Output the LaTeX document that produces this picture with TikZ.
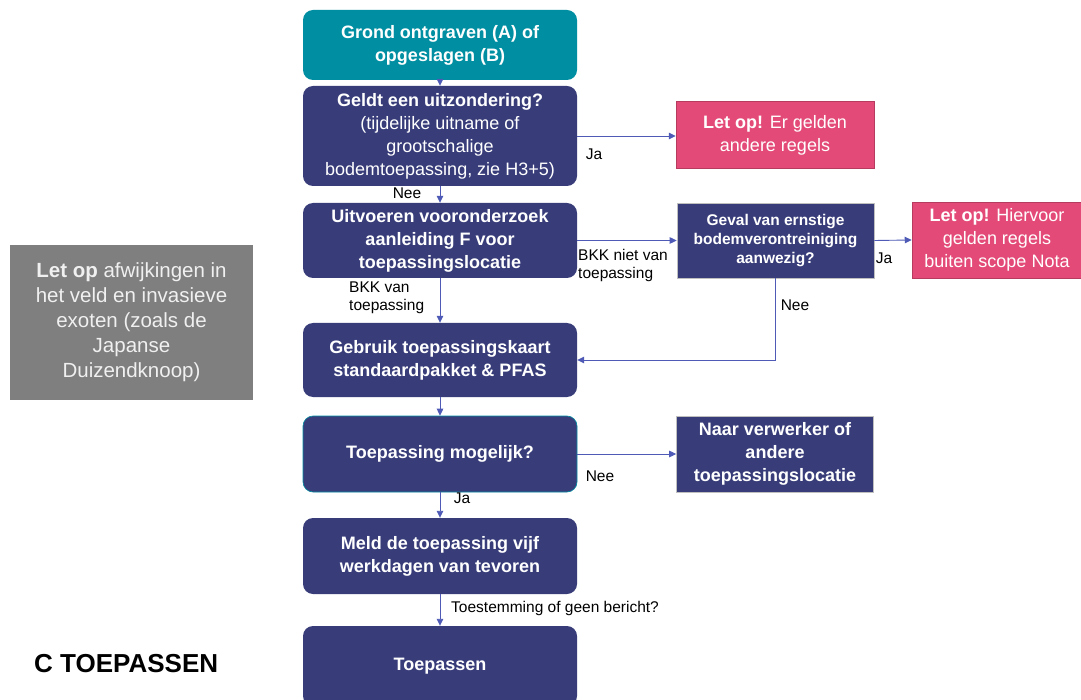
\documentclass[tikz,border=0pt]{standalone}
\usepackage{fontspec}
\setmainfont{Liberation Sans}
\usepackage{tikz}
\usetikzlibrary{positioning}
\usetikzlibrary{arrows.meta}
\definecolor{grondteal}{RGB}{0,143,162}
\definecolor{stapblauw}{RGB}{56,61,122}
\definecolor{letoproze}{RGB}{228,74,119}
\definecolor{notagrijs}{RGB}{127,127,127}
\definecolor{pijlblauw}{RGB}{78,90,182}
\tikzset{
	stap/.style={rounded corners=10pt, fill=stapblauw, text=white, align=center, inner sep=2pt,
		minimum width=274pt, minimum height=75pt, font=\bfseries\fontsize{18}{23}\selectfont},
	blok/.style={fill=stapblauw, draw=white!75!black, line width=0.6pt, text=white, align=center,
		minimum width=197pt, minimum height=75pt, inner sep=1pt, font=\bfseries\fontsize{18}{23}\selectfont},
	letop/.style={fill=letoproze, draw=letoproze!80!black, line width=0.5pt, text=white, align=center,
		minimum height=67pt, inner sep=1pt, font=\fontsize{18}{23}\selectfont},
	uitleg/.style={inner sep=0pt, align=left, font=\fontsize{15.5}{18}\selectfont},
	pijl/.style={draw=pijlblauw, line width=0.9pt, -{Triangle[length=7pt,width=6.5pt]}},
}
\begin{document}
\begin{tikzpicture}[x=1pt, y=-1pt]
		\useasboundingbox [fill=white] (0,0) rectangle (1081,700);
		% hoofdlijn
		\node at (440,45) [stap, fill=grondteal, minimum height=70pt] (grond) {Grond ontgraven (A) of\\opgeslagen (B)};
		\node at (440,136) [stap, minimum height=100pt] (uitz) {Geldt een uitzondering?\\\mdseries (tijdelijke uitname of\\\mdseries grootschalige\\\mdseries bodemtoepassing, zie H3+5)};
		\node at (440,240.5) [stap] (vooronderzoek) {Uitvoeren vooronderzoek\\aanleiding F voor\\toepassingslocatie};
		\node at (440,360) [stap, minimum height=74pt] (kaart) {Gebruik toepassingskaart\\standaardpakket \& PFAS};
		\node at (440,454) [stap, draw=grondteal, line width=0.6pt, minimum height=76pt] (mogelijk) {Toepassing mogelijk?};
		\node at (440,556) [stap, minimum height=76pt] (melden) {Meld de toepassing vijf\\werkdagen van tevoren};
		\node at (440,666) [stap, minimum height=80pt] (toepassen) {Toepassen};
		% zijtakken
		\node at (775,135) [letop, minimum width=198pt] (letop1) {\textbf{Let op!} Er gelden\\andere regels};
		\node at (775.5,240.5) [blok, font=\bfseries\fontsize{15.5}{19}\selectfont] (geval) {Geval van ernstige\\bodemverontreiniging\\aanwezig?};
		\node at (997,240) [letop, minimum width=170pt, minimum height=76pt] (letop2) {\textbf{Let op!} Hiervoor\\gelden regels\\buiten scope Nota};
		\node at (775,454) [blok, minimum height=76pt] (verwerker) {Naar verwerker of\\andere\\toepassingslocatie};
		% links
		\node at (131.5,322.5) [fill=notagrijs, text=white!94!black, align=center, minimum width=243pt, minimum height=155pt,
			font=\fontsize{20.5}{25}\selectfont] (exoten) {\textbf{Let op} afwijkingen in\\het veld en invasieve\\exoten (zoals de\\Japanse\\Duizendknoop)};
		\node at (34,664) [anchor=west, inner sep=0pt, font=\bfseries\fontsize{26}{30}\selectfont] (titel) {C TOEPASSEN};
		% pijlen
		\draw [pijl] (grond) -- (uitz);
		\draw [pijl] (uitz) -- (vooronderzoek);
		\draw [pijl] (uitz.east) -- (uitz.east -| letop1.west);
		\draw [pijl] (vooronderzoek.east) -- (geval.west);
		\draw [pijl] (geval.east) -- (letop2.west);
		\draw [pijl] (vooronderzoek) -- (kaart);
		\draw [pijl] (geval.south) |- (kaart.east);
		\draw [pijl] (kaart) -- (mogelijk);
		\draw [pijl] (mogelijk.east) -- (verwerker.west);
		\draw [pijl] (mogelijk) -- (melden);
		\draw [pijl] (melden) -- (toepassen);
		% uitleg bij de pijlen
		\node at (407,193) [uitleg] (nee1) {Nee};
		\node at (594,154) [uitleg] (ja1) {Ja};
		\node at (578,265) [uitleg, anchor=west] (bkkniet) {BKK niet van\\toepassing};
		\node at (884,258) [uitleg] (ja2) {Ja};
		\node at (349,298) [uitleg, anchor=west] (bkkvan) {BKK van\\toepassing};
		\node at (795,305) [uitleg] (nee2) {Nee};
		\node at (600,476) [uitleg] (nee3) {Nee};
		\node at (462,498) [uitleg] (ja3) {Ja};
		\node at (451,608) [uitleg, anchor=west] (toestemming) {Toestemming of geen bericht?};
		\end{tikzpicture}
\end{document}
